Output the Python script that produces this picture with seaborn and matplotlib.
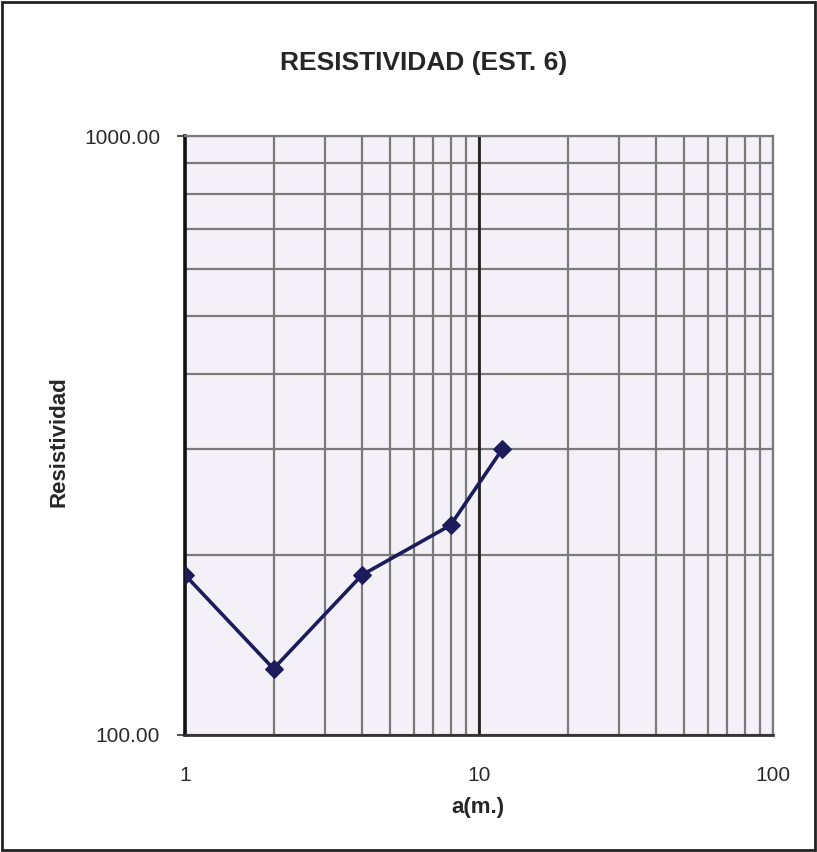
import matplotlib
matplotlib.use("Agg")
import matplotlib.pyplot as plt
import seaborn as sns
import pandas as pd
from matplotlib.ticker import FixedLocator, FixedFormatter, LogLocator, NullFormatter
from matplotlib.patches import Rectangle

# Data
a_m = [1, 2, 4, 8, 12]
resistividad = [185, 129, 185, 224, 300]
x_ticks = [1, 10, 100]
x_tick_labels = ["1", "10", "100"]
y_ticks = [100, 1000]
y_tick_labels = ["100.00", "1000.00"]
title = "RESISTIVIDAD (EST. 6)"
x_label = "a(m.)"
y_label = "Resistividad"

sns.set_theme(style="white")
plt.rcParams['font.family'] = ['Liberation Sans', 'DejaVu Sans']

W, H = 817, 852
L, R, T, B = 185, 773, 136, 735
fig = plt.figure(figsize=(W/100, H/100), dpi=100)
fig.patch.set_facecolor("white")
ax = fig.add_axes([L/W, 1-B/H, (R-L)/W, (B-T)/H])
ax.set_facecolor("#f4f0f7")

df = pd.DataFrame({"a": a_m, "r": resistividad})
sns.lineplot(data=df, x="a", y="r", ax=ax, color="#1c1c5c", linewidth=2.6,
             marker="D", markersize=9, markeredgecolor="#1c1c5c", zorder=5)

ax.set_xscale("log")
ax.set_yscale("log")
ax.set_xlim(1, 100)
ax.set_ylim(100, 1000)

ax.xaxis.set_major_locator(FixedLocator(x_ticks))
ax.xaxis.set_major_formatter(FixedFormatter(x_tick_labels))
ax.yaxis.set_major_locator(FixedLocator(y_ticks))
ax.yaxis.set_major_formatter(FixedFormatter(y_tick_labels))
ax.xaxis.set_minor_locator(LogLocator(base=10, subs=range(2, 10)))
ax.yaxis.set_minor_locator(LogLocator(base=10, subs=range(2, 10)))
ax.xaxis.set_minor_formatter(NullFormatter())
ax.yaxis.set_minor_formatter(NullFormatter())

ax.grid(True, which="both", color="#7a7a7a", linewidth=1.6)
ax.axvline(10, color="#222222", linewidth=2.0, zorder=2)

ax.tick_params(axis="both", which="major", labelsize=15, colors="#2a2a2a")
ax.tick_params(axis="y", which="major", left=True, length=6, width=1.5, color="#555555", pad=12)
ax.tick_params(axis="x", which="major", bottom=False, pad=16)
ax.tick_params(axis="both", which="minor", length=0)

for s in ["top", "right"]:
    ax.spines[s].set_color("#7a7a7a")
    ax.spines[s].set_linewidth(1.6)
ax.spines["left"].set_color("#111111")
ax.spines["left"].set_linewidth(2.6)
ax.spines["bottom"].set_color("#333333")
ax.spines["bottom"].set_linewidth(2.0)

ax.set_xlabel(x_label, fontsize=16, fontweight="bold", va="center")
ax.xaxis.set_label_coords((478-L)/(R-L), -(807-B)/(B-T))
ax.set_ylabel(y_label, fontsize=16, fontweight="bold", va="center")
ax.yaxis.set_label_coords((59-L)/(R-L), (B-442)/(B-T))
fig.text(424/W, 1-63/H, title, ha="center", va="center", fontsize=19, fontweight="bold")

fig.patches.append(Rectangle((0.002, 0.002), 0.996, 0.996, transform=fig.transFigure,
                             fill=False, edgecolor="#222222", linewidth=2))

fig.savefig("out.png", dpi=100)
